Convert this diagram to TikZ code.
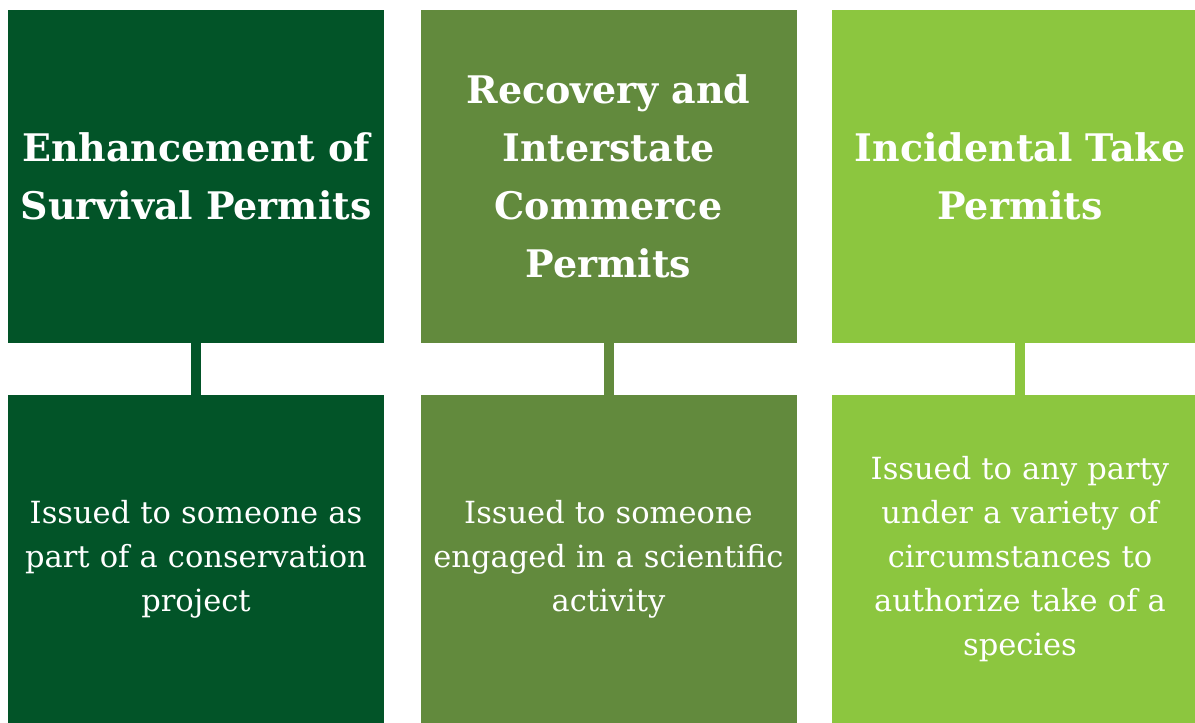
\documentclass[tikz,border=0pt]{standalone}
\usepackage{fontspec}
\setmainfont{DejaVu Serif}
\usepackage{tikz}
\usetikzlibrary{positioning}

\definecolor{darkleaf}{RGB}{2,84,40}
\definecolor{midleaf}{RGB}{98,138,61}
\definecolor{lightleaf}{RGB}{140,198,63}

\tikzset{
  permit/.style={minimum width=376pt, minimum height=333pt, inner sep=0pt,
    text=white, align=center, text width=360pt,
    font=\bfseries\fontsize{38}{58}\selectfont},
  detail/.style={minimum width=376pt, minimum height=328pt, inner sep=0pt,
    text=white, align=center, text width=360pt,
    font=\fontsize{30.5}{44}\selectfont},
  stem/.style={line width=10pt}
}

\begin{document}
\begin{tikzpicture}[x=1pt, y=-1pt]
    \useasboundingbox (0,0) rectangle (1195,723);
    \clip (0,0) rectangle (1195,723);
    % top row
    \node[permit, fill=darkleaf] (enh) at (196,176.5) {Enhancement of\\Survival Permits};
    \node[permit, fill=midleaf] (rec) at (608.5,176.5) {Recovery and\\Interstate\\Commerce\\Permits};
    \node[permit, fill=lightleaf] (inc) at (1020,176.5) {Incidental Take\\Permits};
    % bottom row
    \node[detail, fill=darkleaf] (enhd) at (196,559) {Issued to someone as\\part of a conservation\\project};
    \node[detail, fill=midleaf] (recd) at (608.5,559) {Issued to someone\\engaged in a scientific\\activity};
    \node[detail, fill=lightleaf] (incd) at (1020,559) {Issued to any party\\under a variety of\\circumstances to\\authorize take of a\\species};
    % stems
    \draw[stem, darkleaf] (enh.south) -- (enhd.north);
    \draw[stem, midleaf] (rec.south) -- (recd.north);
    \draw[stem, lightleaf] (inc.south) -- (incd.north);
\end{tikzpicture}
\end{document}
